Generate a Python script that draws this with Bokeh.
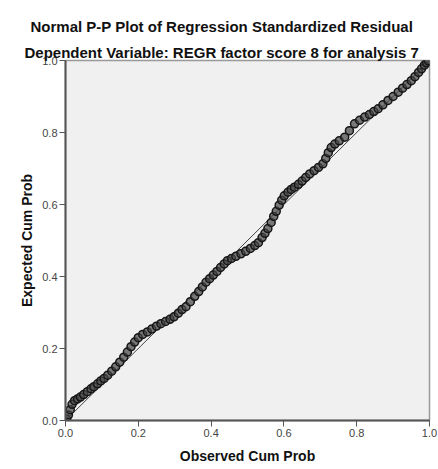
from bokeh.plotting import figure
from bokeh.models import Range1d, Title, FixedTicker, CustomJSTickFormatter
from bokeh.embed import file_html
from bokeh.resources import INLINE

title_1 = "Normal P-P Plot of Regression Standardized Residual"
title_2 = "Dependent Variable: REGR factor score   8 for analysis 7"
x_label = "Observed Cum Prob"
y_label = "Expected Cum Prob"
ticks = [0.0, 0.2, 0.4, 0.6, 0.8, 1.0]

observed = [0.003, 0.008, 0.013, 0.018, 0.025, 0.033, 0.041, 0.050, 0.060, 0.070,
            0.078, 0.088, 0.097, 0.106, 0.116, 0.127, 0.138, 0.149, 0.160, 0.170,
            0.180, 0.190, 0.200, 0.212, 0.225, 0.237, 0.250, 0.262, 0.275, 0.287,
            0.298, 0.310, 0.320, 0.331, 0.343, 0.355, 0.366, 0.376, 0.386, 0.396,
            0.406, 0.416, 0.426, 0.436, 0.445, 0.456, 0.468, 0.482, 0.495, 0.508,
            0.520, 0.530, 0.540, 0.548, 0.556, 0.565, 0.572, 0.579, 0.587, 0.594,
            0.601, 0.611, 0.620, 0.629, 0.640, 0.650, 0.660, 0.671, 0.683, 0.695,
            0.707, 0.715, 0.722, 0.730, 0.740, 0.752, 0.767, 0.780, 0.794, 0.808,
            0.822, 0.835, 0.847, 0.859, 0.872, 0.886, 0.900, 0.914, 0.926, 0.938,
            0.950, 0.960, 0.970, 0.978, 0.986, 0.992, 0.997]
expected = [0.004, 0.015, 0.030, 0.045, 0.055, 0.060, 0.065, 0.072, 0.080, 0.088,
            0.094, 0.102, 0.110, 0.117, 0.126, 0.137, 0.149, 0.162, 0.176, 0.190,
            0.205, 0.218, 0.230, 0.239, 0.246, 0.254, 0.262, 0.269, 0.275, 0.281,
            0.288, 0.298, 0.308, 0.316, 0.330, 0.345, 0.358, 0.371, 0.384, 0.394,
            0.404, 0.414, 0.425, 0.435, 0.444, 0.450, 0.456, 0.463, 0.470, 0.478,
            0.486, 0.494, 0.508, 0.520, 0.533, 0.550, 0.567, 0.581, 0.598, 0.612,
            0.624, 0.634, 0.642, 0.648, 0.656, 0.665, 0.675, 0.685, 0.694, 0.703,
            0.713, 0.728, 0.744, 0.758, 0.768, 0.777, 0.787, 0.805, 0.824, 0.834,
            0.843, 0.850, 0.858, 0.866, 0.877, 0.889, 0.900, 0.912, 0.923, 0.933,
            0.944, 0.955, 0.967, 0.977, 0.987, 0.994, 0.999]
diag_x = [0.0, 1.0]
diag_y = [0.0, 1.0]

FONT = "Liberation Sans"

p = figure(width=438, height=469, output_backend="svg", toolbar_location=None,
           x_range=Range1d(0, 1), y_range=Range1d(0, 1),
           min_border_left=65, min_border_right=9, min_border_top=60, min_border_bottom=49)
p.background_fill_color = "#F0F0F0"
p.border_fill_color = "white"
p.outline_line_color = "#999999"
p.outline_line_width = 1.5
p.grid.visible = False

p.line(diag_x, diag_y, line_color="#444444", line_width=1)
p.scatter(observed, expected, marker="circle", size=8, fill_color="#444444", fill_alpha=0.7,
          line_color="#161616", line_width=1.5)

fmt = CustomJSTickFormatter(code="return tick.toFixed(1);")
for ax in (p.xaxis[0], p.yaxis[0]):
    ax.ticker = FixedTicker(ticks=ticks)
    ax.formatter = fmt
    ax.minor_tick_line_color = None
    ax.major_tick_out = 6
    ax.major_tick_in = 0
    ax.major_tick_line_color = "#555555"
    ax.axis_line_color = "#555555"
    ax.axis_line_width = 2
    ax.major_label_text_font = FONT
    ax.major_label_text_font_size = "11px"
    ax.major_label_text_color = "#444444"
    ax.axis_label_text_font = FONT
    ax.axis_label_text_font_size = "14px"
    ax.axis_label_text_font_style = "bold"
    ax.axis_label_text_color = "#111111"

p.xaxis.axis_label = x_label
p.yaxis.axis_label = y_label
p.xaxis.major_label_standoff = 2
p.xaxis.axis_label_standoff = 8
p.yaxis.major_label_standoff = 2
p.yaxis.axis_label_standoff = 4

p.add_layout(Title(text=title_2, align="left", offset=-41, standoff=0,
                   text_font=FONT, text_font_size="15px", text_font_style="bold",
                   text_color="#111111"), "above")
p.add_layout(Title(text=title_1, align="left", offset=-35, standoff=13,
                   text_font=FONT, text_font_size="15px", text_font_style="bold",
                   text_color="#111111"), "above")

open("out.html", "w").write(file_html(p, INLINE))
